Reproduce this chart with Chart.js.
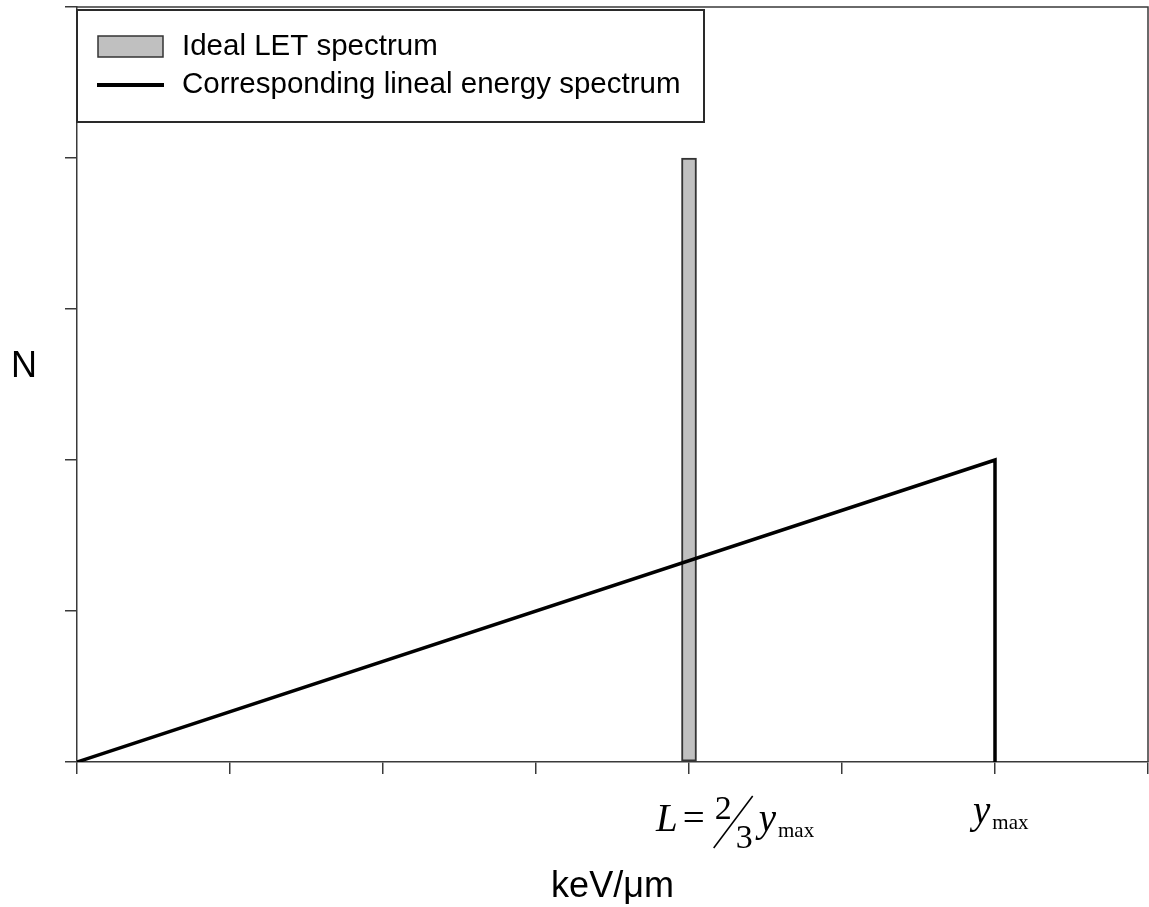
<!DOCTYPE html>
<html>
<head>
<meta charset="utf-8">
<script src="https://cdn.jsdelivr.net/npm/chart.js@4/dist/chart.umd.min.js"></script>
<style>
  html, body { margin: 0; padding: 0; background: #fff; }
  #wrap { width: 1149px; height: 907px; position: relative; }
</style>
</head>
<body>
<div id="wrap"><canvas id="c"></canvas></div>
<script>
// Ideal LET spectrum: every track has the same LET value L
const letValues = [4];
const letCounts = [4];

// Corresponding lineal energy spectrum: rises linearly up to y_max, then drops to zero
const linealEnergy = [0, 6, 6];
const linealCounts = [0, 2, 0];

// Labelled positions on the energy axis
const tickValues = [4, 6];
const tickTexts = ['L = 2/3 y_max', 'y_max'];

const seriesLabels = ['Ideal LET spectrum', 'Corresponding lineal energy spectrum'];
const xTitle = 'keV/\u03bcm';
const yTitle = 'N';

const AXIS = '#3a3a3a';
const SANS = '"Liberation Sans", Arial, Helvetica, sans-serif';
const SERIF = '"Liberation Serif", "Times New Roman", serif';

// Lays out a small formula: italic symbols, fractions "a/b" and subscripts "v_sub"
function drawFormula(ctx, text, x0, base) {
  const big = 39, small = 21, frac = 34;
  let x = x0;
  ctx.textBaseline = 'alphabetic';
  ctx.textAlign = 'left';
  for (const tok of text.split(' ')) {
    const f = tok.match(/^(\d)\/(\d)$/);
    if (f) {
      ctx.font = `${frac}px ${SERIF}`;
      ctx.fillText(f[1], x, base - 12);
      ctx.fillText(f[2], x + 21, base + 17);
      ctx.beginPath();
      ctx.lineWidth = 1.6;
      ctx.moveTo(x - 1, base + 17);
      ctx.lineTo(x + 38, base - 35);
      ctx.stroke();
      x += 44;
    } else if (tok.includes('_')) {
      const [v, sub] = tok.split('_');
      ctx.font = `italic ${big}px ${SERIF}`;
      ctx.fillText(v, x, base);
      x += ctx.measureText(v).width + 2;
      ctx.font = `${small}px ${SERIF}`;
      ctx.fillText(sub, x, base + 6);
      x += ctx.measureText(sub).width + 4;
    } else if (/^[A-Za-z]+$/.test(tok)) {
      ctx.font = `italic ${big}px ${SERIF}`;
      ctx.fillText(tok, x, base);
      x += ctx.measureText(tok).width + 5;
    } else {
      ctx.font = `${big}px ${SERIF}`;
      ctx.fillText(tok, x, base);
      x += ctx.measureText(tok).width + 10;
    }
  }
}

const decorations = {
  id: 'decorations',
  afterDraw(chart) {
    const { ctx, chartArea: a, scales } = chart;
    ctx.save();

    // closing frame on top and right
    ctx.strokeStyle = AXIS;
    ctx.lineWidth = 1.5;
    ctx.beginPath();
    ctx.moveTo(a.left, a.top);
    ctx.lineTo(a.right, a.top);
    ctx.lineTo(a.right, a.bottom);
    ctx.stroke();

    // legend box
    const lx = a.left, ly = a.top + 3, lw = 627, lh = 112;
    ctx.fillStyle = '#fff';
    ctx.fillRect(lx, ly, lw, lh);
    ctx.strokeStyle = '#2a2a2a';
    ctx.lineWidth = 2;
    ctx.strokeRect(lx, ly, lw, lh);

    const ds = chart.data.datasets;
    ctx.font = `29.5px ${SANS}`;
    ctx.textAlign = 'left';
    ctx.textBaseline = 'middle';
    // bar entry
    ctx.fillStyle = ds[0].backgroundColor;
    ctx.fillRect(lx + 21, ly + 26, 65, 21);
    ctx.strokeStyle = ds[0].borderColor;
    ctx.lineWidth = 1.5;
    ctx.strokeRect(lx + 21, ly + 26, 65, 21);
    ctx.fillStyle = '#000';
    ctx.fillText(ds[0].label, lx + 105, ly + 37);
    // line entry
    ctx.strokeStyle = ds[1].borderColor;
    ctx.lineWidth = 4;
    ctx.beginPath();
    ctx.moveTo(lx + 20, ly + 75);
    ctx.lineTo(lx + 87, ly + 75);
    ctx.stroke();
    ctx.fillText(ds[1].label, lx + 105, ly + 75);

    // formula tick labels
    ctx.fillStyle = '#000';
    ctx.strokeStyle = '#000';
    const shifts = [{ dx: -33, base: 69 }, { dx: -22, base: 61 }];
    tickValues.forEach((v, i) => {
      const px = scales.x.getPixelForValue(v);
      drawFormula(ctx, tickTexts[i], px + shifts[i].dx, a.bottom + shifts[i].base);
    });

    // axis titles
    ctx.font = `36px ${SANS}`;
    ctx.textAlign = 'center';
    ctx.textBaseline = 'alphabetic';
    ctx.fillText(xTitle, (a.left + a.right) / 2, a.bottom + 135);
    ctx.fillText(yTitle, 24, (a.top + a.bottom) / 2 - 8);

    ctx.restore();
  }
};

const axisBase = {
  type: 'linear',
  offset: false,
  ticks: { display: false, stepSize: 1 },
  grid: { offset: false, drawOnChartArea: false, drawTicks: true, tickLength: 12, color: AXIS, lineWidth: 1.5 },
  border: { display: true, color: AXIS, width: 1.5 }
};

new Chart(document.getElementById('c'), {
  type: 'bar',
  data: {
    datasets: [
      {
        type: 'bar',
        label: seriesLabels[0],
        data: letValues.map((x, i) => ({ x, y: letCounts[i] })),
        backgroundColor: '#c0c0c0',
        borderColor: '#333333',
        borderWidth: 2,
        borderSkipped: false,
        barThickness: 15,
        order: 2
      },
      {
        type: 'line',
        label: seriesLabels[1],
        data: linealEnergy.map((x, i) => ({ x, y: linealCounts[i] })),
        borderColor: '#000000',
        borderWidth: 3.5,
        borderJoinStyle: 'miter',
        pointRadius: 0,
        tension: 0,
        fill: false,
        order: 1
      }
    ]
  },
  options: {
    responsive: true,
    maintainAspectRatio: false,
    animation: false,
    layout: { padding: { left: 65, top: 7, right: 1, bottom: 133 } },
    plugins: { legend: { display: false }, tooltip: { enabled: false } },
    scales: {
      x: { ...axisBase, min: 0, max: 7 },
      y: { ...axisBase, min: 0, max: 5 }
    }
  },
  plugins: [decorations]
});
</script>
</body>
</html>
